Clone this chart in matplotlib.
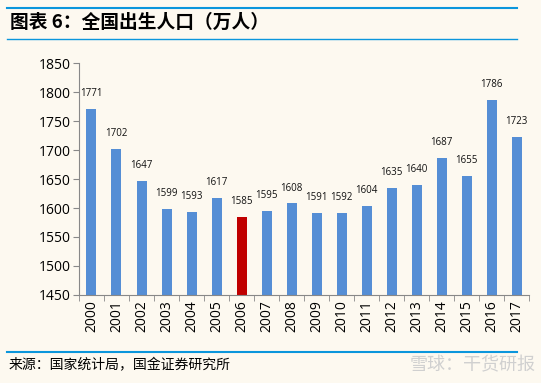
import matplotlib.pyplot as plt
from matplotlib.lines import Line2D

plt.rcParams['font.family'] = ['Open Sans', 'Noto Sans CJK SC', 'DejaVu Sans']

years = [str(y) for y in range(2000, 2018)]
births = [1771, 1702, 1647, 1599, 1593, 1617, 1585, 1595, 1608,
          1591, 1592, 1604, 1635, 1640, 1687, 1655, 1786, 1723]
highlight = '2006'

bg = '#fdf9f0'
blue = '#558ed5'
red = '#c00000'

fig = plt.figure(figsize=(5.41, 3.83), dpi=100, facecolor=bg)
ax = fig.add_axes([0.146, 0.23, 0.832, 0.605], facecolor=bg)

colors = [red if y == highlight else blue for y in years]
x = list(range(len(years)))
ax.bar(x, [b - 1450 for b in births], bottom=1450, width=0.4, color=colors)
for xi, b in zip(x, births):
    ax.text(xi, b + 17, str(b), ha='center', va='bottom', fontsize=7, color='#111111')

ax.set_ylim(1450, 1850)
ax.set_yticks(range(1450, 1851, 50))
ax.set_xlim(-0.45, 17.45)
ax.set_xticks(x)
ax.set_xticklabels(years, rotation=90, fontsize=10)
ax.tick_params(axis='y', labelsize=10, length=4, color='#888888', pad=2)
ax.tick_params(axis='x', length=0, pad=4)
# ticks between categories
ax.set_xticks([i + 0.5 for i in range(-1, len(years))], minor=True)
ax.tick_params(axis='x', which='minor', length=4, color='#888888')
for s in ['top', 'right']:
    ax.spines[s].set_visible(False)
for s in ['left', 'bottom']:
    ax.spines[s].set_color('#888888')

# header and footer
line_c = '#0b96dc'
fig.add_artist(Line2D([0.013, 0.956], [0.979, 0.979], color=line_c, lw=1.5))
fig.add_artist(Line2D([0.013, 0.956], [0.898, 0.898], color=line_c, lw=1.0))
fig.text(0.018, 0.942, '图表 6：全国出生人口（万人）', fontsize=13.5, fontweight='bold',
         style='italic', va='center', family=['Noto Sans CJK SC', 'DejaVu Sans'])
fig.add_artist(Line2D([0.013, 0.956], [0.081, 0.081], color=line_c, lw=1.5))
fig.text(0.015, 0.046, '来源：国家统计局，国金证券研究所', fontsize=10, va='center',
         family=['Noto Sans CJK SC', 'DejaVu Sans'])
fig.text(0.99, 0.046, '雪球：干货研报', fontsize=13, va='center', ha='right',
         color='#d0d0d0', family=['Noto Sans CJK SC', 'DejaVu Sans'])

fig.savefig('out.png', dpi=100, facecolor=bg)
